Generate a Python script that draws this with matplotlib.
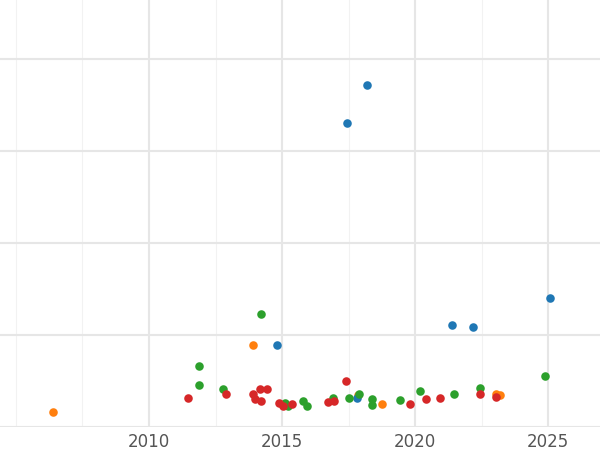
import matplotlib
matplotlib.use("Agg")
import matplotlib.pyplot as plt
from matplotlib.ticker import MultipleLocator, FixedLocator, NullFormatter

# series values (year, value)
orange_x = [2006.39, 2013.91, 2017.86, 2018.76, 2023.05, 2023.20]
orange_y = [0.16, 0.89, 0.35, 0.25, 0.36, 0.35]

blue_x = [2018.20, 2017.44, 2025.08, 2021.39, 2022.18, 2014.81, 2017.82]
blue_y = [3.72, 3.30, 1.40, 1.11, 1.09, 0.89, 0.32]

green_x = [2014.21, 2011.88, 2011.88, 2012.78, 2024.89, 2020.19, 2022.44, 2021.47, 2017.52,
           2017.89, 2018.38, 2018.38, 2019.44, 2015.79, 2015.94, 2015.11, 2015.23, 2016.92]
green_y = [1.23, 0.66, 0.46, 0.41, 0.55, 0.39, 0.42, 0.36, 0.32,
           0.36, 0.30, 0.24, 0.29, 0.28, 0.23, 0.26, 0.23, 0.32]

red_x = [2011.47, 2012.89, 2013.91, 2014.17, 2014.44, 2013.98, 2014.21, 2017.41, 2014.89,
         2015.04, 2015.38, 2016.73, 2016.95, 2019.81, 2020.41, 2020.94, 2022.44, 2023.05]
red_y = [0.32, 0.36, 0.36, 0.41, 0.41, 0.30, 0.28, 0.50, 0.26,
         0.23, 0.25, 0.27, 0.28, 0.25, 0.30, 0.32, 0.36, 0.33]

x_ticks = [2010, 2015, 2020, 2025]

fig = plt.figure(figsize=(6, 4.5), dpi=100)
ax = fig.add_axes([0, 23 / 450, 1, 427 / 450])

for xs, ys, c in [(orange_x, orange_y, "#ff7f0e"), (blue_x, blue_y, "#1f77b4"),
                  (green_x, green_y, "#2ca02c"), (red_x, red_y, "#d62728")]:
    ax.scatter(xs, ys, s=38, color=c, zorder=3, linewidths=0)

ax.set_xlim(2004.4, 2026.95)
ax.set_ylim(0, 4.64)
ax.xaxis.set_major_locator(FixedLocator(x_ticks))
ax.xaxis.set_minor_locator(FixedLocator([2005, 2007.5, 2012.5, 2017.5, 2022.5]))
ax.xaxis.set_minor_formatter(NullFormatter())
ax.yaxis.set_major_locator(MultipleLocator(1))
ax.set_yticklabels([])
ax.grid(which="major", color="#e6e6e6", linewidth=1.5)
ax.grid(which="minor", axis="x", color="#f2f2f2", linewidth=0.8)
ax.tick_params(which="both", length=0, labelsize=12, labelcolor="#555555", pad=4)
for s in ax.spines.values():
    s.set_visible(False)

fig.savefig("out.png")
